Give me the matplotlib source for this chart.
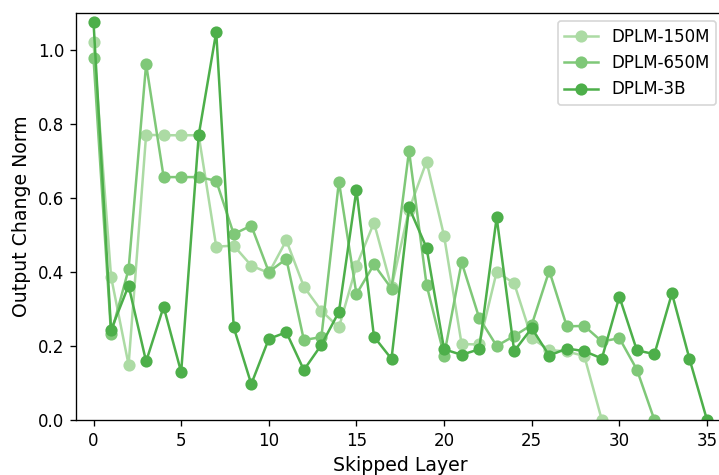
import matplotlib
matplotlib.use("Agg")
import matplotlib.pyplot as plt
import numpy as np

# skip-one-layer output change norms per model
dplm_150m = [1.02, 0.387, 0.149, 0.77, 0.769, 0.769, 0.769, 0.468, 0.471, 0.417,
             0.397, 0.485, 0.36, 0.295, 0.25, 0.416, 0.533, 0.358, 0.568, 0.698,
             0.497, 0.205, 0.204, 0.40, 0.369, 0.221, 0.189, 0.185, 0.173, 0.0]
dplm_650m = [0.977, 0.232, 0.407, 0.961, 0.656, 0.656, 0.656, 0.646, 0.502, 0.525,
             0.40, 0.435, 0.216, 0.224, 0.644, 0.34, 0.42, 0.355, 0.727, 0.365,
             0.174, 0.426, 0.276, 0.20, 0.227, 0.257, 0.403, 0.253, 0.254, 0.212,
             0.221, 0.136, 0.0]
dplm_3b = [1.074, 0.243, 0.363, 0.158, 0.306, 0.129, 0.769, 1.048, 0.25, 0.097,
           0.219, 0.237, 0.135, 0.203, 0.292, 0.622, 0.225, 0.165, 0.574, 0.465,
           0.191, 0.176, 0.191, 0.547, 0.186, 0.248, 0.174, 0.193, 0.186, 0.166,
           0.333, 0.188, 0.178, 0.342, 0.165, 0.0]

series = [("DPLM-150M", dplm_150m, "#acdba4"),
          ("DPLM-650M", dplm_650m, "#7fc878"),
          ("DPLM-3B", dplm_3b, "#4daf4a")]

dpi = 120
fig = plt.figure(figsize=(719 / dpi, 475 / dpi), dpi=dpi)
ax = fig.add_axes([0.1057, 0.1158, 0.902, 0.8575])

for name, vals, col in series:
    ax.plot(np.arange(len(vals)), vals, marker="o", color=col, label=name,
            linewidth=1.5, markersize=6.3)

ax.set_xlim(-1, 36)
ax.set_ylim(0, 1.1)
ax.set_xticks(range(0, 36, 5))
ax.set_yticks([0.0, 0.2, 0.4, 0.6, 0.8, 1.0])
ax.spines["right"].set_visible(False)
ax.tick_params(labelsize=10)
ax.set_xlabel("Skipped Layer", fontsize=11.3)
ax.set_ylabel("Output Change Norm", fontsize=11.3)
ax.legend(loc="upper right", fontsize=10)

fig.savefig("out.png", dpi=dpi)
